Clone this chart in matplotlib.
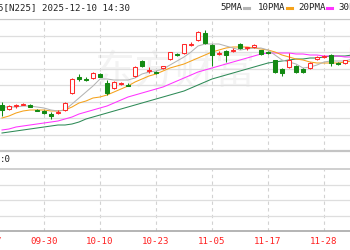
import numpy as np
import matplotlib.pyplot as plt
from matplotlib.lines import Line2D
from matplotlib.transforms import blended_transform_factory

nan = np.nan

dates = ["09-17", "09-18", "09-19", "09-22", "09-24", "09-25", "09-26", "09-29", "09-30",
         "10-01", "10-02", "10-03", "10-06", "10-07", "10-08", "10-09", "10-10", "10-14",
         "10-15", "10-16", "10-17", "10-20", "10-21", "10-22", "10-23", "10-24", "10-27",
         "10-28", "10-29", "10-30", "10-31", "11-04", "11-05", "11-06", "11-07", "11-10",
         "11-11", "11-12", "11-13", "11-14", "11-17", "11-18", "11-19", "11-20", "11-21",
         "11-25", "11-26", "11-27", "11-28", "12-01", "12-02", "12-03", "12-04"]

opens = [nan, nan, 45500, 45100, 45400, 45550, 45500, 45050, 44900, 44650, 44750, 45000,
         46700, 48350, 48100, 48200, 48650, 47700, 47200, 47650, 47550, 48400, 49900, 48950,
         48800, 49200, 50100, 50650, 50700, 51550, 52000, 52700, 51500, 50650, 50900, 50950,
         51600, 51200, 51300, 51000, 50800, 50000, 49100, 49300, 49400, 49100, 49200, 50100,
         50300, 50500, 49650, 49700, 50000]
highs = [nan, nan, 45800, 45500, 45600, 45750, 45600, 45100, 45000, 44800, 45000, 45800,
         48200, 48600, 48300, 48800, 48700, 48000, 47900, 47850, 47750, 49400, 50050, 49300,
         48900, 49450, 50850, 50750, 51650, 51800, 52900, 53000, 51600, 50900, 51000, 51200,
         51700, 51350, 51600, 51050, 50900, 50050, 49200, 50700, 49500, 49200, 49800, 50400,
         50500, 50600, 49800, 50050, 51700]
lows = [nan, nan, 44400, 45000, 45200, 45500, 45300, 44900, 44600, 44100, 44600, 44950,
        46600, 47900, 47900, 48100, 48300, 46500, 47100, 47550, 47400, 48350, 49300, 48700,
        48600, 49150, 50050, 50400, 50650, 51450, 51950, 51650, 49400, 50500, 49800, 50800,
        51100, 51050, 51250, 50550, 50600, 48750, 48400, 49250, 48700, 48700, 49150, 50050,
        50200, 49400, 49500, 49650, 49950]
closes = [nan, nan, 45000, 45400, 45450, 45650, 45350, 44950, 44700, 44400, 44850, 45700,
          48100, 48150, 48000, 48700, 48350, 46700, 47800, 47750, 47450, 49300, 49400, 49050,
          48700, 49400, 50800, 50550, 51600, 51650, 52800, 51700, 50500, 50750, 50500, 51050,
          51200, 51250, 51550, 50600, 50700, 48800, 48700, 50000, 48800, 48800, 49700, 50350,
          50400, 49700, 49600, 50000, 51300]

ma5 = [nan, nan, 45300, 45300, 45300, 45400, 45400, 45300, 45200, 45000, 44900, 45000,
       45600, 46200, 46800, 47400, 48100, 48100, 48000, 48000, 48000, 48200, 48600, 48800,
       48900, 49100, 49500, 49900, 50300, 50800, 51400, 51600, 51600, 51600, 51400, 51200,
       51000, 51100, 51200, 51200, 51000, 50500, 50000, 49800, 49600, 49200, 49300, 49500,
       49800, 49900, 49900, 49900, 50100]
ma10 = [nan, nan, 44200, 44400, 44700, 44900, 45000, 45000, 45000, 44900, 44900, 45000,
        45300, 45700, 45900, 46200, 46300, 46500, 46800, 47100, 47400, 47800, 48100, 48400,
        48600, 48900, 49200, 49400, 49600, 49900, 50200, 50500, 50800, 51000, 51200, 51300,
        51300, 51300, 51200, 51100, 51000, 50800, 50500, 50300, 50100, 50000, 49800, 49700,
        49700, 49700, 49700, 49800, 49900]
ma20 = [nan, nan, 43000, 43100, 43300, 43400, 43500, 43600, 43700, 43800, 43900, 44100,
        44300, 44600, 44800, 45000, 45200, 45400, 45700, 46000, 46300, 46500, 46700, 46900,
        47100, 47300, 47600, 47900, 48200, 48500, 48800, 49000, 49200, 49400, 49600, 49800,
        50000, 50200, 50400, 50600, 50700, 50700, 50700, 50700, 50600, 50600, 50500, 50500,
        50400, 50400, 50400, 50300, 50300]
ma30 = [nan, nan, 42700, 42800, 42900, 43000, 43100, 43200, 43300, 43400, 43500, 43500,
        43600, 43800, 44100, 44300, 44500, 44700, 44900, 45100, 45300, 45500, 45700, 45900,
        46100, 46300, 46500, 46700, 46900, 47200, 47500, 47800, 48100, 48300, 48500, 48700,
        48900, 49100, 49300, 49500, 49700, 49800, 49900, 50000, 50100, 50100, 50200, 50200,
        50300, 50400, 50400, 50400, 50500]

ma_names = ["5PMA", "10PMA", "20PMA", "30PMA"]
ma_colors = ["#b4b4b4", "#f5a21b", "#ff33ff", "#2e8b57"]

UP = "#ff2a2a"
DOWN = "#138a13"
GRID = "#dedede"
MONO = "DejaVu Sans Mono"

W, H = 350, 250
fig = plt.figure(figsize=(W / 100, H / 100), dpi=100)


def fx(px):
    return px / W


def fy(py):
    return 1 - py / H


x = np.arange(len(dates))
o = np.array(opens, float)
h = np.array(highs, float)
l = np.array(lows, float)
c = np.array(closes, float)
# 09-30 sits 44 px in, 7 px per trading day
xlim = (8 - 44 / 7, 8 + 306 / 7)

# main price panel, y 19..151 px
ax = fig.add_axes([0, fy(151), 1, (151 - 19) / H])
ax.set_xticks(x[::8])  # before set_xlim, or the view grows to show tick 0
ax.set_yticks(np.linspace(40900, 54100, 9))
ax.set_xlim(xlim)
ax.set_ylim(40900, 54100)
ax.grid(axis="y", color=GRID, lw=0.9)
ax.grid(axis="x", color="#d2d2d2", lw=0.8, ls=(0, (3, 3)))
ax.tick_params(length=0, labelbottom=False, labelleft=False)
for s in ["left", "right"]:
    ax.spines[s].set_visible(False)
ax.spines["top"].set_color("#c8c8c8")
ax.spines["bottom"].set_color("#c4c4c4")
ax.spines["bottom"].set_linewidth(1.6)
ax.set_axisbelow(True)

ax.text(0.5, 0.6, "东方财富", transform=ax.transAxes, ha="center", va="center",
        fontsize=29, color="#f3f3f3", family=["Noto Sans CJK SC"], zorder=0.5)

for vals, col in zip([ma30, ma20, ma10, ma5], ma_colors[::-1]):
    ax.plot(x, vals, color=col, lw=0.75, zorder=2)

up = c >= o
bw = 0.66
ax.vlines(x[up], l[up], h[up], color=UP, lw=0.75, zorder=3)
ax.vlines(x[~up], l[~up], h[~up], color=DOWN, lw=0.75, zorder=3)
body = np.maximum(np.abs(c - o), 60)
ax.bar(x[up], body[up], bw, bottom=np.minimum(o, c)[up], facecolor="white",
       edgecolor=UP, lw=0.75, zorder=4)
ax.bar(x[~up], body[~up], bw, bottom=np.minimum(o, c)[~up], facecolor=DOWN,
       edgecolor=DOWN, lw=0.75, zorder=4)
ax.set_xlim(xlim)

# lower panel, y 169..231 px
ax2 = fig.add_axes([0, fy(231), 1, (231 - 169) / H])
ax2.set_xticks(x[::8])
ax2.set_xticklabels(dates[::8])
ax2.set_yticks([1, 2, 3])
ax2.set_xlim(xlim)
ax2.set_ylim(0, 4)
ax2.grid(axis="y", color=GRID, lw=0.9)
ax2.grid(axis="x", color="#d2d2d2", lw=0.8, ls=(0, (3, 3)))
ax2.tick_params(length=0, labelleft=False, labelsize=6.6, labelcolor="#ff2020", pad=4)
for t in ax2.get_xticklabels():
    t.set_family(MONO)
for s in ["left", "right"]:
    ax2.spines[s].set_visible(False)
ax2.spines["top"].set_color("#cfcfcf")
ax2.spines["top"].set_linewidth(1.4)
ax2.spines["bottom"].set_color("#a8a8a8")
ax2.spines["bottom"].set_linewidth(1.2)

# first date label lies left of the view, only its tail shows
trans = blended_transform_factory(ax2.transData, fig.transFigure)
ax2.text(x[0], fy(241), dates[0], transform=trans, ha="center", va="center",
         family=MONO, fontsize=6.6, color="#ff2020", clip_on=False)

fig.text(fx(0), fy(160), ":0", family=MONO, fontsize=6.6, va="center", ha="left", color="#222222")

# header
fig.text(fx(-2), fy(8), "5[N225] 2025-12-10 14:30", family=MONO, fontsize=6.6,
         va="center", ha="left", color="#222222")
leg_x = [220, 258, 298, 338]
for name, col, lx in zip(ma_names, ma_colors, leg_x):
    fig.text(fx(lx), fy(8), name, family=MONO, fontsize=6.6, va="center", ha="left",
             color="#222222")
    dx = lx + len(name) * 5.4 + 2
    fig.add_artist(Line2D([fx(dx), fx(dx + 5)], [fy(8), fy(8)], color=col, lw=2.2,
                          transform=fig.transFigure))

fig.savefig("out.png", dpi=100, facecolor="white")
